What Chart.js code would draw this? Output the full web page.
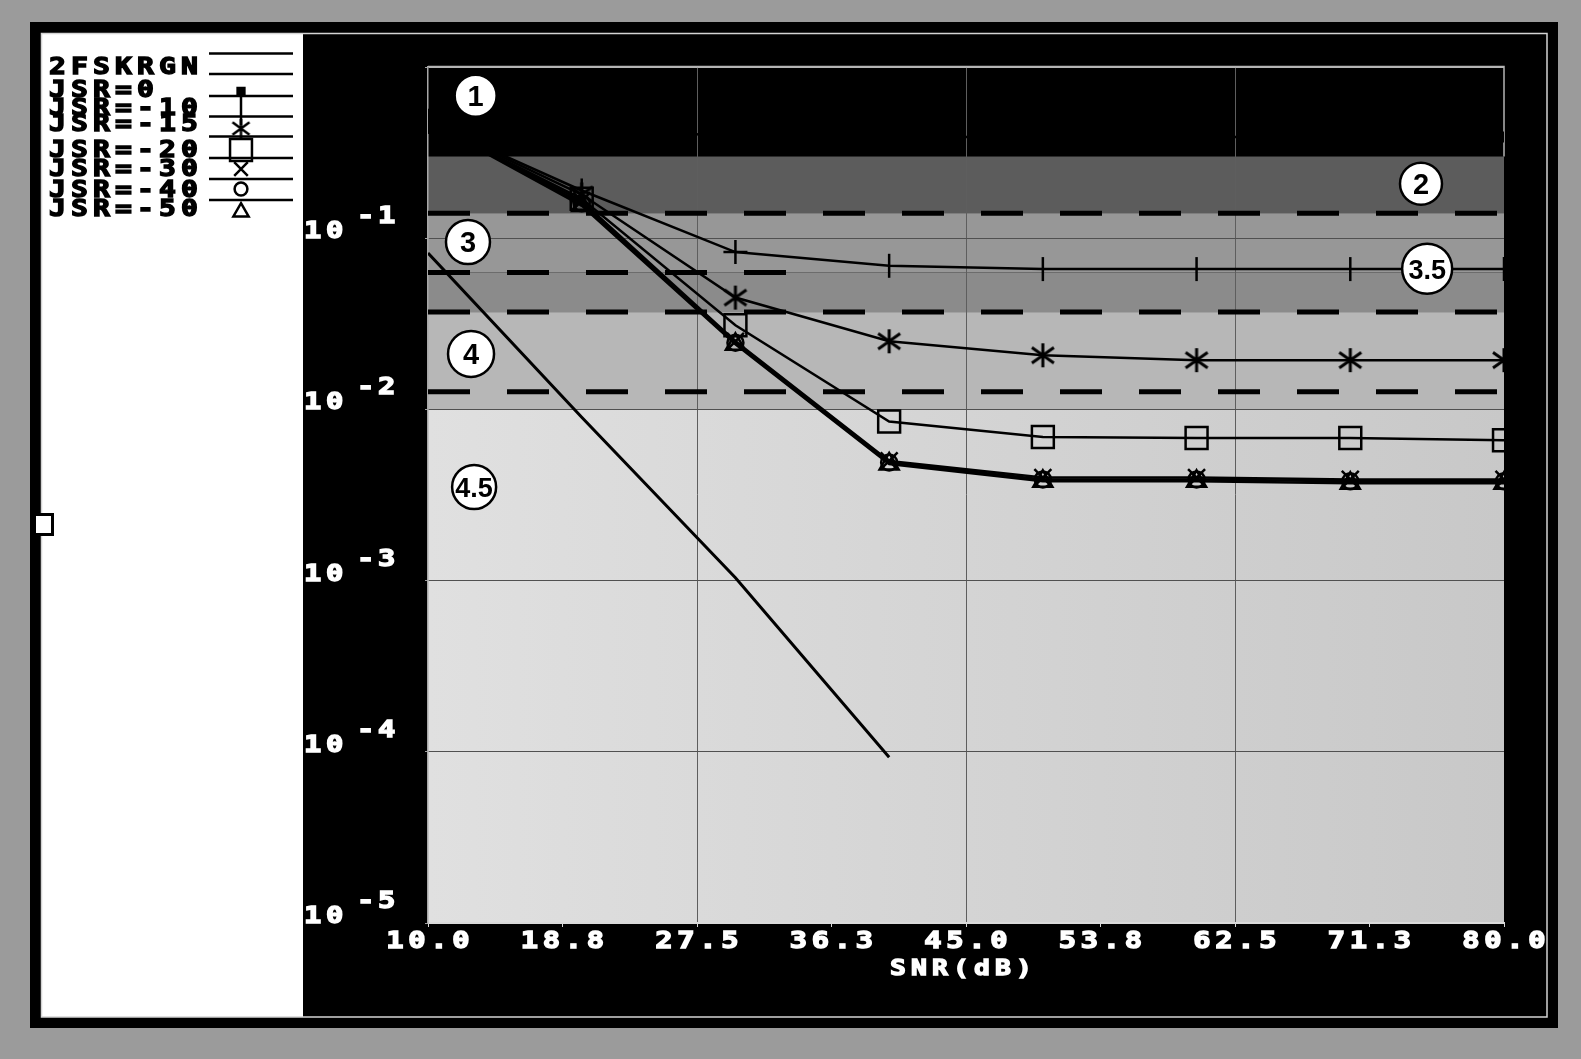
<!DOCTYPE html>
<html>
<head>
<meta charset="utf-8">
<title>2FSK BER vs SNR</title>
<script src="https://cdn.jsdelivr.net/npm/chart.js@4.4.1/dist/chart.umd.min.js"></script>
<style>
  html, body { margin: 0; padding: 0; background: #9b9b9b; }
  canvas { display: block; }
</style>
</head>
<body>
<canvas id="berChart" width="1581" height="1059"></canvas>
<script>
// SNR (dB) where the curves were computed
const snr = [10, 20, 30, 40, 50, 60, 70, 80];
const snrTheory = [10, 20, 30, 40];

// bit error rate
const berTheory = [0.082, 0.0090, 0.00104, 0.000093];
const berJsr0 = [0.48, 0.42, 0.40, 0.39, 0.39, 0.39, 0.39, 0.39];
const berJsr10 = [0.48, 0.19, 0.083, 0.069, 0.066, 0.066, 0.066, 0.066];
const berJsr15 = [0.48, 0.18, 0.045, 0.025, 0.0207, 0.0194, 0.0194, 0.0194];
const berJsr20 = [0.48, 0.17, 0.031, 0.0085, 0.0069, 0.0068, 0.0068, 0.0066];
const berJsr30 = [0.48, 0.165, 0.025, 0.0050, 0.0040, 0.0040, 0.0039, 0.0039];
const berJsr40 = [0.48, 0.16, 0.0245, 0.0049, 0.0039, 0.0039, 0.0038, 0.0038];
const berJsr50 = [0.48, 0.155, 0.024, 0.0048, 0.0038, 0.0038, 0.0037, 0.0037];

const seriesNames = ["2FSKRGN", "JSR=0", "JSR=-10", "JSR=-15", "JSR=-20", "JSR=-30", "JSR=-40", "JSR=-50"];

// axis ticks
const xTicks = [10, 18.75, 27.5, 36.25, 45, 53.75, 62.5, 71.25, 80];
const xTickLabels = ["10.0", "18.8", "27.5", "36.3", "45.0", "53.8", "62.5", "71.3", "80.0"];
const xGridAt = [27.5, 45, 62.5];
const yTicks = [1e-5, 1e-4, 1e-3, 1e-2, 1e-1, 1];
const yTickExp = ["-5", "-4", "-3", "-2", "-1", ""];
const xTitle = "SNR(dB)";

// quality zones (BER limits), zone marks and dashed limits
const zoneEdges = [1, 0.3, 0.14, 0.063, 0.037, 0.01, 1e-5];
const zoneNames = ["1", "2", "3", "3.5", "4", "4.5"];
const zoneNameX = [13.1, 74.6, 12.6, 75.0, 12.8, 13.0];
const zoneNameY = [0.68, 0.208, 0.095, 0.0664, 0.0211, 0.00352];
const dashLevels = [0.14, 0.063, 0.037, 0.0127];
const dashEndX = [80, 33.3, 80, 80];

// ---- styles ----
const zoneFill = ["#000000", "#5c5c5c", "#979797", "#8b8b8b", "#b7b7b7", ["#e0e0e0", "#c8c8c8"]];
const zoneNameR = [21, 21, 22, 25, 23, 22];
const MONO = '"DejaVu Sans Mono", "Liberation Mono", monospace';

// legend geometry (old plot program layout)
const legendTextY = [74, 97, 115, 130.5, 156.5, 176, 196.5, 216];
const legendLineY = [53.5, 74, 96, 116.5, 136.5, 158, 179, 200];
const legendMarkY = [null, 91.5, 110, 128.5, 150, 169, 189, 212];

function makeAsterisk(size, lw) {
    const c = document.createElement("canvas");
    c.width = size;
    c.height = size;
    const g = c.getContext("2d");
    g.strokeStyle = "#000";
    g.lineWidth = lw;
    const m = size / 2;
    g.beginPath();
    g.moveTo(m, 1); g.lineTo(m, size - 1);
    g.moveTo(2, size * 0.2); g.lineTo(size - 2, size * 0.8);
    g.moveTo(2, size * 0.8); g.lineTo(size - 2, size * 0.2);
    g.stroke();
    return c;
}
const asterisk = makeAsterisk(26, 3);
const asteriskSmall = makeAsterisk(21, 2.5);

const markerStyles = [
    null,
    { pointStyle: "rect", radius: 6, fill: true },
    { pointStyle: "line", radius: 12, rotation: 90 },
    { pointStyle: asterisk, radius: 13 },
    { pointStyle: "rect", radius: 15.5 },
    { pointStyle: "crossRot", radius: 12 },
    { pointStyle: "circle", radius: 8 },
    { pointStyle: "triangle", radius: 11 }
];

function series(i, xs, ys) {
    const m = markerStyles[i];
    let style = m ? m.pointStyle : "circle";
    if (i === 2) style = xs.map(v => v === 30 ? "cross" : "line");
    return {
        label: seriesNames[i],
        data: xs.map((x, k) => ({ x: x, y: ys[k] })),
        borderColor: "#000",
        borderWidth: i === 0 ? 3 : 2.5,
        pointStyle: style,
        pointRadius: m ? m.radius : 0,
        pointRotation: m && m.rotation ? m.rotation : 0,
        pointBorderColor: "#000",
        pointBorderWidth: 2.5,
        pointBackgroundColor: m && m.fill ? "#000" : "rgba(0,0,0,0)",
        tension: 0
    };
}

// wide, heavy lettering like the old screen font
function wideText(ctx, text, x, y, size, pitch, sx, align) {
    ctx.save();
    ctx.font = "bold " + size + "px " + MONO;
    const adv = ctx.measureText("0").width;
    const ls = pitch / sx - adv;
    if ("letterSpacing" in ctx) ctx.letterSpacing = ls + "px";
    const w = (text.length * adv + (text.length - 1) * ls) * sx;
    let x0 = x;
    if (align === "center") x0 = x - w / 2;
    ctx.translate(x0, y);
    ctx.scale(sx, 1);
    ctx.textAlign = "left";
    ctx.textBaseline = "alphabetic";
    ctx.strokeStyle = ctx.fillStyle;
    ctx.lineWidth = 1.4;
    ctx.lineJoin = "miter";
    ctx.fillText(text, 0, 0);
    ctx.strokeText(text, 0, 0);
    ctx.restore();
}

const screenPlugin = {
    id: "screen",
    beforeDraw(chart) {
        const { ctx, chartArea: a } = chart;
        const y = chart.scales.y;
        ctx.save();
        ctx.fillStyle = "#9b9b9b";
        ctx.fillRect(0, 0, chart.width, chart.height);
        ctx.fillStyle = "#000";
        ctx.fillRect(30, 22, 1528, 1006);
        ctx.fillStyle = "#fff";
        ctx.fillRect(42, 33, 261, 984);
        ctx.strokeStyle = "#d4d4d4";
        ctx.lineWidth = 1.5;
        ctx.strokeRect(41.5, 33.5, 1505.5, 983.5);

        for (let i = 0; i < zoneEdges.length - 1; i++) {
            const top = y.getPixelForValue(zoneEdges[i]);
            const bot = y.getPixelForValue(zoneEdges[i + 1]);
            let fill = zoneFill[i];
            if (Array.isArray(fill)) {
                const g = ctx.createLinearGradient(a.left, 0, a.right, 0);
                g.addColorStop(0, fill[0]);
                g.addColorStop(1, fill[1]);
                fill = g;
            }
            ctx.fillStyle = fill;
            ctx.fillRect(a.left, top, a.right - a.left, bot - top);
        }

        // small window handle on the left frame
        ctx.fillStyle = "#fff";
        ctx.fillRect(34, 514, 18, 20);
        ctx.strokeStyle = "#000";
        ctx.lineWidth = 3;
        ctx.strokeRect(34.5, 514.5, 18, 20);
        ctx.restore();
    },
    beforeDatasetsDraw(chart) {
        const { ctx, chartArea: a } = chart;
        const { x, y } = chart.scales;
        ctx.save();
        ctx.strokeStyle = "#b4b4b4";
        ctx.lineWidth = 1.5;
        ctx.beginPath();
        ctx.moveTo(a.left, a.top - 0.5);
        ctx.lineTo(a.right, a.top - 0.5);
        ctx.lineTo(a.right, y.getPixelForValue(zoneEdges[1]));
        ctx.stroke();

        ctx.strokeStyle = "#000";
        ctx.lineWidth = 5;
        ctx.setLineDash([42, 37]);
        dashLevels.forEach((v, i) => {
            const py = y.getPixelForValue(v);
            ctx.beginPath();
            ctx.moveTo(a.left, py);
            ctx.lineTo(x.getPixelForValue(dashEndX[i]), py);
            ctx.stroke();
        });
        ctx.restore();
    },
    afterDraw(chart) {
        const { ctx } = chart;
        const { x, y } = chart.scales;
        ctx.save();

        // zone marks
        zoneNames.forEach((name, i) => {
            const cx = x.getPixelForValue(zoneNameX[i]);
            const cy = y.getPixelForValue(zoneNameY[i]);
            ctx.beginPath();
            ctx.arc(cx, cy, zoneNameR[i], 0, Math.PI * 2);
            ctx.fillStyle = "#fff";
            ctx.fill();
            ctx.strokeStyle = "#000";
            ctx.lineWidth = 2.5;
            ctx.stroke();
            ctx.fillStyle = "#000";
            ctx.font = "bold " + (name.length > 1 ? 27 : 29) + 'px "Liberation Sans", Arial, sans-serif';
            ctx.textAlign = "center";
            ctx.textBaseline = "alphabetic";
            ctx.fillText(name, cx, cy + 10);
        });

        // axis labels
        ctx.fillStyle = "#fff";
        xTicks.forEach((v, i) => {
            wideText(ctx, xTickLabels[i], x.getPixelForValue(v), 948, 23, 22, 1.25, "center");
        });
        wideText(ctx, xTitle, (chart.chartArea.left + chart.chartArea.right) / 2 - 5, 975, 22, 21, 1.2, "center");
        yTicks.forEach((v, i) => {
            if (!yTickExp[i]) return;
            const py = y.getPixelForValue(v);
            wideText(ctx, "10", 304, py, 23, 22, 1.25);
            wideText(ctx, yTickExp[i], 357, py - 15, 23, 21, 1.25);
        });

        // legend
        ctx.fillStyle = "#000";
        seriesNames.forEach((name, i) => {
            wideText(ctx, name, 49, legendTextY[i], 23, 22, 1.22);
        });
        ctx.strokeStyle = "#000";
        ctx.lineWidth = 2.5;
        legendLineY.forEach(ly => {
            ctx.beginPath();
            ctx.moveTo(209, ly);
            ctx.lineTo(293, ly);
            ctx.stroke();
        });
        const drawPoint = Chart.helpers && Chart.helpers.drawPoint;
        markerStyles.forEach((m, i) => {
            if (!m || !drawPoint) return;
            ctx.save();
            ctx.strokeStyle = "#000";
            ctx.fillStyle = m.fill ? "#000" : "rgba(0,0,0,0)";
            ctx.lineWidth = 2.5;
            const opts = {
                pointStyle: m.pointStyle === asterisk ? asteriskSmall : m.pointStyle,
                radius: i === 2 ? 15 : m.radius * 0.8,
                rotation: m.rotation || 0,
                borderWidth: 2.5
            };
            if (i === 4) opts.radius = 15.5;
            drawPoint(ctx, opts, 241, legendMarkY[i]);
            ctx.restore();
        });
        ctx.restore();
    }
};

const ctx = document.getElementById("berChart").getContext("2d");

new Chart(ctx, {
    type: "line",
    data: {
        datasets: [
            series(0, snrTheory, berTheory),
            series(1, snr, berJsr0),
            series(2, snr, berJsr10),
            series(3, snr, berJsr15),
            series(4, snr, berJsr20),
            series(5, snr, berJsr30),
            series(6, snr, berJsr40),
            series(7, snr, berJsr50)
        ]
    },
    options: {
        responsive: false,
        animation: false,
        events: [],
        layout: { padding: { left: 428, top: 67, right: 77, bottom: 136 } },
        plugins: {
            legend: { display: false },
            tooltip: { enabled: false }
        },
        scales: {
            x: {
                type: "linear",
                min: 10,
                max: 80,
                afterBuildTicks: s => { s.ticks = xTicks.map(v => ({ value: v })); },
                afterFit: s => { s.height = 0; },
                ticks: { display: false },
                grid: {
                    color: c => xGridAt.includes(c.tick.value) ? "#5e5e5e" : "rgba(0,0,0,0)",
                    lineWidth: 1,
                    drawTicks: true,
                    tickLength: 4,
                    tickColor: "#d8d8d8"
                },
                border: { display: true, color: "#dadada", width: 2 }
            },
            y: {
                type: "logarithmic",
                min: 1e-5,
                max: 1,
                afterBuildTicks: s => { s.ticks = yTicks.map(v => ({ value: v, major: true })); },
                afterFit: s => { s.width = 0; },
                ticks: { display: false },
                grid: {
                    color: c => c.tick.value === 1 ? "#b4b4b4" : "#505050",
                    lineWidth: 1,
                    drawTicks: true,
                    tickLength: 3,
                    tickColor: "#a0a0a0"
                },
                border: { display: true, color: "#a8a8a8", width: 1.5 }
            }
        }
    },
    plugins: [screenPlugin]
});
</script>
</body>
</html>
